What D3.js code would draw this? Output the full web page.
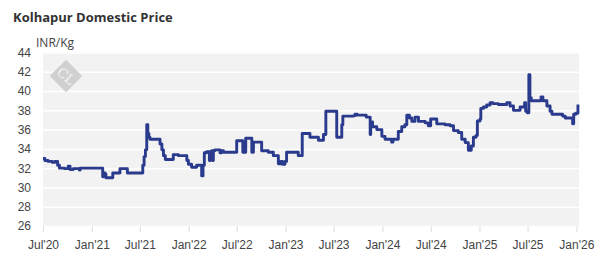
<!DOCTYPE html>
<html>
<head>
<meta charset="utf-8">
<script src="https://cdn.jsdelivr.net/npm/d3@7"></script>
<style>
  body { margin: 0; background: #fff; }
  svg { font-family: "Open Sans", sans-serif; }
  .title { font-weight: 700; font-size: 13px; fill: #333; }
  .unit { font-size: 12px; fill: #444; }
  .tick text { font-size: 12px; fill: #444; }
</style>
</head>
<body>
<div id="app"></div>
<script>
// price data (date, INR/Kg)
const dates = [
  '2020-07-01', '2020-07-08', '2020-07-20', '2020-08-05', '2020-08-15', '2020-08-25', '2020-09-01', '2020-09-20',
  '2020-10-04', '2020-10-11', '2020-10-23', '2020-11-15', '2020-11-18', '2021-02-11', '2021-02-14', '2021-02-20',
  '2021-02-23', '2021-03-21', '2021-04-17', '2021-05-15', '2021-07-12', '2021-07-17', '2021-07-22', '2021-07-27',
  '2021-07-31', '2021-08-04', '2021-08-08', '2021-09-15', '2021-09-22', '2021-09-28', '2021-10-05', '2021-11-04',
  '2021-11-23', '2021-12-05', '2021-12-25', '2021-12-31', '2022-01-12', '2022-01-31', '2022-02-19', '2022-02-24',
  '2022-03-01', '2022-03-10', '2022-03-20', '2022-03-23', '2022-03-29', '2022-04-01', '2022-04-04', '2022-04-10',
  '2022-04-29', '2022-05-05', '2022-05-12', '2022-07-01', '2022-07-24', '2022-08-04', '2022-08-27', '2022-09-02',
  '2022-10-03', '2022-10-28', '2022-11-16', '2022-12-05', '2022-12-15', '2022-12-20', '2022-12-30', '2023-01-05',
  '2023-02-18', '2023-03-05', '2023-04-03', '2023-05-05', '2023-05-24', '2023-06-02', '2023-07-13', '2023-08-01',
  '2023-08-05', '2023-09-15', '2023-09-20', '2023-09-28', '2023-11-01', '2023-11-16', '2023-11-18', '2023-11-25',
  '2023-12-11', '2023-12-30', '2024-01-11', '2024-02-05', '2024-02-10', '2024-03-01', '2024-03-14', '2024-03-26',
  '2024-04-02', '2024-04-12', '2024-04-21', '2024-05-03', '2024-05-16', '2024-06-10', '2024-06-22', '2024-07-01',
  '2024-07-24', '2024-08-24', '2024-09-12', '2024-09-25', '2024-10-13', '2024-10-26', '2024-11-08', '2024-11-20',
  '2024-12-01', '2024-12-09', '2024-12-19', '2024-12-24', '2025-01-03', '2025-01-06', '2025-01-16', '2025-01-28',
  '2025-02-10', '2025-02-20', '2025-03-13', '2025-04-14', '2025-04-26', '2025-05-09', '2025-06-03', '2025-06-20',
  '2025-06-24', '2025-06-30', '2025-07-06', '2025-07-10', '2025-07-15', '2025-08-21', '2025-08-28', '2025-09-12',
  '2025-09-24', '2025-10-01', '2025-11-10', '2025-11-20', '2025-12-18', '2025-12-22', '2025-12-30', '2026-01-07'
];
const prices = [
  33.0, 32.8, 32.7, 32.6, 32.7, 32.3, 32.0, 31.95,
  32.2, 31.85, 31.95, 31.8, 32.0, 31.1, 31.5, 31.4,
  31.0, 31.5, 31.95, 31.5, 32.3, 33.2, 33.9, 36.5,
  35.6, 35.2, 35.0, 34.5, 33.9, 33.3, 32.9, 33.4,
  33.3, 33.3, 32.8, 32.4, 32.1, 32.3, 31.2, 32.3,
  33.6, 33.7, 32.8, 33.7, 33.8, 32.8, 33.8, 33.9,
  33.6, 33.8, 33.65, 34.85, 33.65, 35.1, 33.65, 34.7,
  33.8, 33.65, 33.3, 32.45, 32.7, 32.4, 32.7, 33.65,
  33.3, 35.6, 35.2, 34.9, 35.5, 37.9, 35.2, 36.5,
  37.4, 37.45, 37.6, 37.5, 37.3, 35.5, 36.8, 36.3,
  36.0, 35.3, 35.0, 34.7, 35.0, 35.8, 36.3, 36.5,
  37.5, 37.2, 36.85, 37.3, 36.85, 36.7, 36.4, 37.1,
  36.6, 36.5, 36.4, 35.9, 35.7, 35.0, 34.65, 33.85,
  34.3, 35.2, 35.4, 36.9, 37.1, 38.2, 38.35, 38.55,
  38.8, 38.7, 38.6, 38.8, 38.45, 38.0, 38.35, 38.8,
  37.9, 37.75, 41.7, 39.3, 39.0, 39.4, 39.0, 38.45,
  37.9, 37.6, 37.4, 37.2, 36.6, 37.6, 37.7, 38.6
];
const yTicks = [26, 28, 30, 32, 34, 36, 38, 40, 42, 44];
const xTicks = ['2020-07-01', '2021-01-01', '2021-07-01', '2022-01-01', '2022-07-01', '2023-01-01',
  '2023-07-01', '2024-01-01', '2024-07-01', '2025-01-01', '2025-07-01', '2026-01-01'];
const xDomain = ['2020-07-01', '2026-01-11'];

function render() {
  const width = 611;
  const height = 266;
  const margin = { left: 43, right: 32, top: 52.5, bottom: 40 };
  const parse = d3.timeParse('%Y-%m-%d');
  const data = dates.map((d, i) => ({ date: parse(d), value: prices[i] }));

  const svg = d3.select('#app').append('svg').attr('width', width).attr('height', height);

  const xScale = d3.scaleTime(xDomain.map(parse), [margin.left, width - margin.right]);
  const yScale = d3.scaleLinear([26, 44], [height - margin.bottom, margin.top]);

  svg.append('text').attr('class', 'title').attr('x', 13).attr('y', 22).text('Kolhapur Domestic Price');
  svg.append('text').attr('class', 'unit').attr('x', 36).attr('y', 47).text('INR/Kg');

  // plot background
  svg.append('rect')
    .attr('x', margin.left).attr('y', margin.top)
    .attr('width', xScale.range()[1] - margin.left)
    .attr('height', yScale(26) - yScale(44))
    .attr('fill', '#f2f2f2');

  // grid + y labels
  const yAxis = d3.axisLeft(yScale).tickValues(yTicks).tickSize(0).tickPadding(12);
  const yG = svg.append('g').attr('transform', `translate(${margin.left},0)`).call(yAxis);
  yG.select('.domain').remove();
  yG.selectAll('.tick').append('line')
    .attr('x1', 0).attr('x2', xScale.range()[1] - margin.left)
    .attr('stroke', '#fff').attr('stroke-width', 1.5);
  yG.selectAll('.tick').filter(d => d === 26 || d === 44).select('line').remove();

  // x axis
  const xAxis = d3.axisBottom(xScale)
    .tickValues(xTicks.map(parse))
    .tickFormat(d3.timeFormat("%b'%y"))
    .tickSize(6).tickPadding(8);
  const xG = svg.append('g').attr('transform', `translate(0,${yScale(26)})`).call(xAxis);
  xG.select('.domain').remove();
  xG.selectAll('.tick line').attr('stroke', '#ddd');

  // watermark
  const logo = svg.append('g').attr('transform', 'translate(66,76)');
  logo.append('rect').attr('x', -11.5).attr('y', -11.5).attr('width', 23).attr('height', 23)
    .attr('transform', 'rotate(45)').attr('fill', '#d0d0d0');
  logo.append('text').text('CL').attr('text-anchor', 'middle').attr('dy', '0.35em')
    .attr('transform', 'rotate(40)')
    .attr('font-family', 'DejaVu Serif, serif').attr('font-size', 13).attr('fill', '#f4f4f4');

  // price line
  const line = d3.line()
    .x(d => xScale(d.date))
    .y(d => yScale(d.value))
    .curve(d3.curveStepAfter);
  svg.append('path')
    .datum(data)
    .attr('d', line)
    .attr('fill', 'none')
    .attr('stroke', '#2a3a8c')
    .attr('stroke-width', 2.9)
    .attr('stroke-linejoin', 'round');
}

render();
</script>
</body>
</html>
